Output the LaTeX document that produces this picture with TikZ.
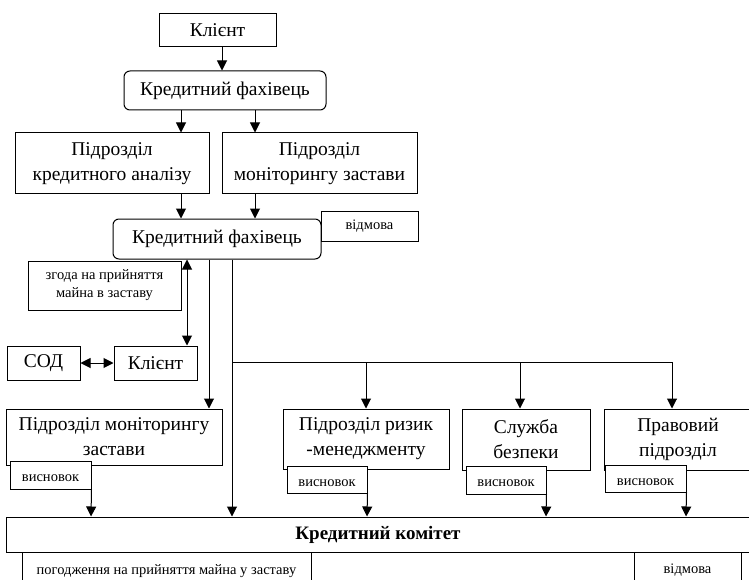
\documentclass[tikz,border=0pt]{standalone}
\usepackage{fontspec}
\setmainfont{Liberation Serif}
\usetikzlibrary{arrows.meta}
\begin{document}
\begin{tikzpicture}[x=1pt,y=-1pt,
  box/.style={draw,line width=1pt,inner sep=0pt,align=center,font=\fontsize{19.5}{25}\selectfont},
  rbox/.style={box,rounded corners=6pt},
  sbox/.style={draw,line width=1pt,inner sep=0pt,align=center,font=\fontsize{14.5}{18}\selectfont},
  hvbox/.style={sbox,fill=white,text height=13pt,text depth=0pt},
  arr/.style={line width=1pt,-{Triangle[length=10pt,width=10pt]}},
  darr/.style={line width=1pt,{Triangle[length=10pt,width=10pt]}-{Triangle[length=10pt,width=10pt]}},
  ln/.style={line width=1pt}]
\useasboundingbox (0,0) rectangle (749,580);
\begin{scope}
\clip (0,0) rectangle (749,580);
\node[box,minimum width=117pt,minimum height=33pt] (k1) at (217.5,30.5) {Клієнт};
\node[rbox,minimum width=202pt,minimum height=39pt] (f1) at (225,90.5) {Кредитний фахівець};
\node[box,minimum width=194pt,minimum height=61pt] (a1) at (112,163.5) {Підрозділ\\кредитного аналізу};
\node[box,minimum width=195pt,minimum height=61pt] (m1) at (319.5,163.5) {Підрозділ\\моніторингу застави};
\node[rbox,minimum width=208pt,minimum height=40pt] (f2) at (217,239) {Кредитний фахівець};
\node[sbox,minimum width=97pt,minimum height=30pt] (v1) at (369.5,226) {відмова};
\node[sbox,minimum width=153pt,minimum height=49pt] (z) at (104.5,285.5) {згода на прийняття\\майна в заставу};
\node[box,minimum width=73pt,minimum height=34pt] (sod) at (43.5,363) {СОД};
\node[box,minimum width=83pt,minimum height=34pt] (k2) at (155.5,363) {Клієнт};
\node[box,minimum width=216pt,minimum height=56pt] (m2) at (114,437) {Підрозділ моніторингу\\застави};
\node[box,minimum width=166pt,minimum height=60pt] (r) at (366,439) {Підрозділ ризик\\-менеджменту};
\node[box,minimum width=128pt,minimum height=61pt] (s) at (526,439.5) {Служба\\безпеки};
\node[box,minimum width=148pt,minimum height=61pt] (p) at (678,439.5) {Правовий\\підрозділ};
\node[hvbox,minimum width=81pt,minimum height=28pt] (hv1) at (50.5,475) {висновок};
\node[hvbox,minimum width=80pt,minimum height=27pt] (hv2) at (327,479.5) {висновок};
\node[hvbox,minimum width=80pt,minimum height=28pt] (hv3) at (506,480) {висновок};
\node[hvbox,minimum width=81pt,minimum height=27pt] (hv4) at (645.5,478.5) {висновок};
\node[draw,line width=1pt,inner sep=0pt,minimum width=744pt,minimum height=35pt,font=\bfseries\fontsize{19}{22}\selectfont] (kk) at (378,534.5) {Кредитний комітет};
\node[sbox,minimum width=289pt,minimum height=36pt,text depth=0pt] (pg) at (166.5,570) {погодження на прийняття майна у заставу};
\node[sbox,minimum width=107pt,minimum height=36pt] (v2) at (687.5,570) {відмова};
\end{scope}
\draw[arr] (222,0 |- k1.south) -- (222,0 |- f1.north);
\draw[arr] (181,0 |- f1.south) -- (181,0 |- a1.north);
\draw[arr] (255,0 |- f1.south) -- (255,0 |- m1.north);
\draw[arr] (181,0 |- a1.south) -- (181,0 |- f2.north);
\draw[arr] (255,0 |- m1.south) -- (255,0 |- f2.north);
\draw[darr] (187,0 |- f2.south) -- (187,0 |- k2.north);
\draw[darr] (sod.east) -- (k2.west);
\draw[arr] (209,0 |- f2.south) -- (209,0 |- m2.north);
\draw[arr] (232,0 |- f2.south) -- (232,0 |- kk.north);
\coordinate (br) at (232,362);
\draw[ln] (br) -- (672,362);
\draw[arr] (366,362) -- (366,0 |- r.north);
\draw[arr] (520,362) -- (520,0 |- s.north);
\draw[arr] (672,362) -- (672,0 |- p.north);
\draw[arr] (hv1.south east) -- (91,0 |- kk.north);
\draw[arr] (hv2.south east) -- (367,0 |- kk.north);
\draw[arr] (hv3.south east) -- (546,0 |- kk.north);
\draw[arr] (hv4.south east) -- (686,0 |- kk.north);
\end{tikzpicture}
\end{document}
